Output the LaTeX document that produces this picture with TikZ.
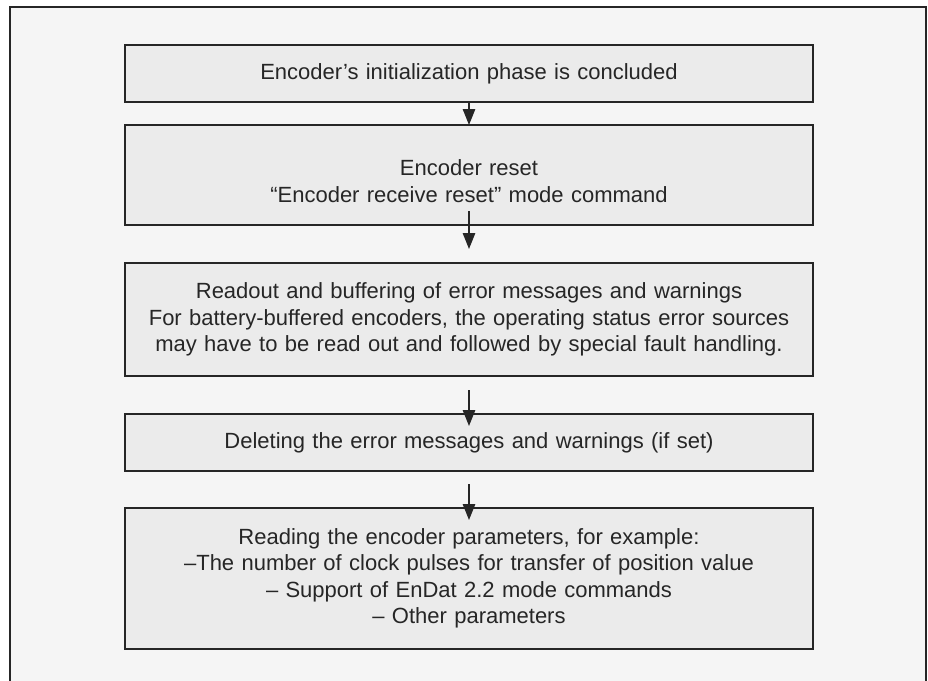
\documentclass[tikz,border=0pt]{standalone}
\usepackage{fontspec}
\setmainfont{Liberation Sans}
\usetikzlibrary{arrows.meta, positioning}
\definecolor{framebg}{HTML}{F5F5F5}
\definecolor{boxbg}{HTML}{EBEBEB}
\definecolor{inkgray}{HTML}{262626}
\tikzstyle{process} = [rectangle, draw=inkgray, line width=1.2pt, fill=boxbg, outer sep=0pt, minimum width=688pt, text width=680pt, align=center, text=inkgray, font=\fontsize{22}{26.5}\selectfont]
\tikzstyle{flow} = [draw=inkgray, line width=1.2pt, -{Triangle[length=16pt, width=12.5pt]}]

\begin{document}
\begin{tikzpicture}[node distance=38pt]
\useasboundingbox (0pt,0pt) rectangle (928pt,-680pt);
\fill[white] (0pt,0pt) rectangle (928pt,-680pt);
\fill[framebg] (10pt,-7pt) rectangle (926pt,-690pt);
\draw[draw=inkgray, line width=1.2pt] (10pt,-690pt) -- (10pt,-7pt) -- (926pt,-7pt) -- (926pt,-690pt);

\node (init) [process, minimum height=57pt] at (469pt,-73.5pt) {Encoder's initialization phase is concluded};
\node (reset) [process, minimum height=100pt, below=23pt of init] {\rule{0pt}{28pt}Encoder reset\\``Encoder receive reset'' mode command};
\node (readout) [process, minimum height=113pt, below=38pt of reset] {Readout and buffering of error messages and warnings\\For battery-buffered encoders, the operating status error sources\\may have to be read out and followed by special fault handling.};
\node (delete) [process, minimum height=57pt, below=38pt of readout] {Deleting the error messages and warnings (if set)};
\node (params) [process, minimum height=141pt, below=37pt of delete] {Reading the encoder parameters, for example:\\--The number of clock pulses for transfer of position value\\-- Support of EnDat 2.2 mode commands\\-- Other parameters};

\draw[flow] (init) -- (reset);
\draw[flow] ([yshift=14pt]reset.south) -- ([yshift=14pt]readout.north);
\draw[flow] ([yshift=-14pt]readout.south) -- ([yshift=-12pt]delete.north);
\draw[flow] ([yshift=-13pt]delete.south) -- ([yshift=-12pt]params.north);
\end{tikzpicture}
\end{document}
